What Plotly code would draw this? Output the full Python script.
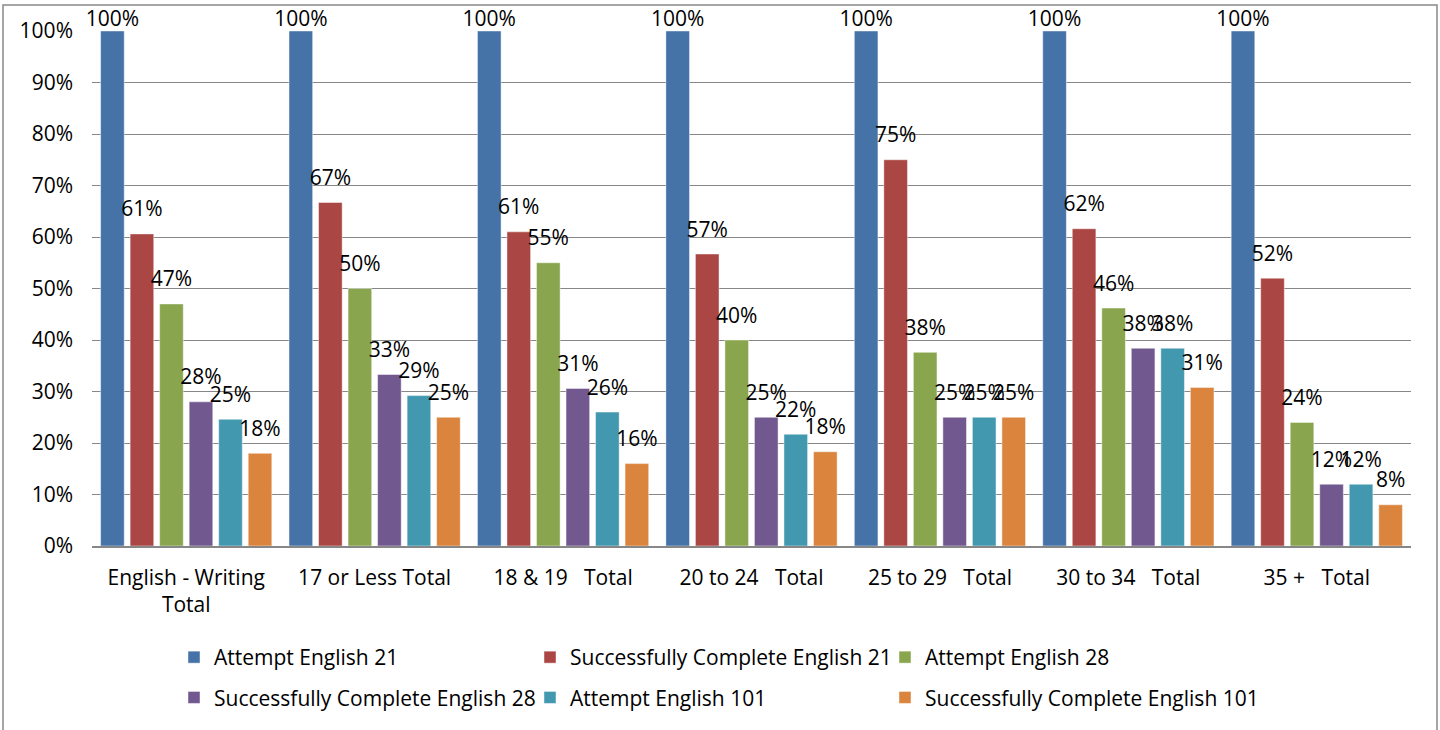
import plotly.graph_objects as go

categories = [
    "English - Writing<br>Total",
    "17 or Less Total",
    "18 &amp; 19\u00a0\u00a0\u00a0Total",
    "20 to 24\u00a0\u00a0\u00a0Total",
    "25 to 29\u00a0\u00a0\u00a0Total",
    "30 to 34\u00a0\u00a0\u00a0Total",
    "35 +\u00a0\u00a0\u00a0Total",
]

series_names = [
    "Attempt English 21",
    "Successfully Complete English 21",
    "Attempt English 28",
    "Successfully Complete English 28",
    "Attempt English 101",
    "Successfully Complete English 101",
]

attempt_21 = [1.000, 1.000, 1.000, 1.000, 1.000, 1.000, 1.000]
complete_21 = [0.606, 0.667, 0.610, 0.567, 0.750, 0.616, 0.520]
attempt_28 = [0.470, 0.500, 0.550, 0.400, 0.376, 0.462, 0.240]
complete_28 = [0.280, 0.333, 0.306, 0.250, 0.250, 0.384, 0.120]
attempt_101 = [0.246, 0.292, 0.260, 0.217, 0.250, 0.384, 0.120]
complete_101 = [0.180, 0.250, 0.160, 0.183, 0.250, 0.308, 0.080]

series_values = [attempt_21, complete_21, attempt_28, complete_28, attempt_101, complete_101]

y_ticks = [0, 0.1, 0.2, 0.3, 0.4, 0.5, 0.6, 0.7, 0.8, 0.9, 1.0]
y_tick_labels = ["0%", "10%", "20%", "30%", "40%", "50%", "60%", "70%", "80%", "90%", "100%"]

colors = ["#4572A7", "#AA4643", "#89A54E", "#71588F", "#4198AF", "#DB843D"]

FONT = "Open Sans"
W, H = 1440, 730
ML, MR, MT, MB = 92, 29, 31, 184
PW, PH = W - ML - MR, H - MT - MB

def px_x(p):
    return (p - ML) / PW

def px_y(p):
    return (H - MB - p) / PH

legend_ids = ["legend", "legend2", "legend3"]
legend_cols = [174, 530, 885]

fig = go.Figure()

for i, (name, vals) in enumerate(zip(series_names, series_values)):
    fig.add_trace(go.Bar(
        x=categories, y=vals, name=name,
        marker=dict(color=colors[i], line=dict(width=1, color="rgba(255,255,255,0.45)")),
        legend=legend_ids[i % 3],
        legendgroup=f"lg{i}",
        offsetgroup=f"g{i}",
        hoverinfo="skip",
    ))

for i, vals in enumerate(series_values):
    fig.add_trace(go.Scatter(
        x=categories, y=vals, mode="markers+text",
        texttemplate="%{y:.0%}",
        textposition="top center",
        textfont=dict(family=FONT, size=21, color="#000000"),
        marker=dict(size=[0 if v >= 1 else 18 for v in vals], opacity=0),
        showlegend=False, hoverinfo="skip",
        offsetgroup=f"g{i}",
        cliponaxis=False,
    ))

legend_common = dict(
    orientation="v", xanchor="left", y=px_y(637), yanchor="top",
    font=dict(family=FONT, size=21, color="#000000"),
    bgcolor="rgba(0,0,0,0)", traceorder="grouped", tracegroupgap=10,
)

fig.update_layout(
    width=W, height=H,
    margin=dict(l=ML, r=MR, t=MT, b=MB, autoexpand=False),
    paper_bgcolor="white", plot_bgcolor="white",
    font=dict(family=FONT, size=21, color="#000000"),
    barmode="group", bargap=0.06, bargroupgap=0.2,
    scattermode="group", scattergap=0.06,
    xaxis=dict(
        type="category", showgrid=False, showline=True, linecolor="#878787", linewidth=1.5,
        ticks="", tickfont=dict(family=FONT, size=21, color="#000000"),
        ticklabelstandoff=12, automargin=False, fixedrange=True,
    ),
    yaxis=dict(
        range=[0, 1], tickvals=y_ticks, ticktext=y_tick_labels,
        showgrid=True, gridcolor="#878787", gridwidth=1.3,
        zeroline=False, showline=False, ticks="",
        tickfont=dict(family=FONT, size=21, color="#000000"),
        ticklabelstandoff=18, automargin=False, fixedrange=True,
    ),
    legend=dict(x=px_x(legend_cols[0]), **legend_common),
    legend2=dict(x=px_x(legend_cols[1]), **legend_common),
    legend3=dict(x=px_x(legend_cols[2]), **legend_common),
    shapes=[dict(
        type="rect", xref="paper", yref="paper",
        x0=px_x(3), x1=px_x(1437), y0=px_y(745), y1=px_y(5),
        line=dict(color="#888888", width=1.5), fillcolor="rgba(0,0,0,0)", layer="below",
    )],
    showlegend=True,
)

fig.write_html(
    "out.html",
    config={"displayModeBar": False},
    post_script="document.body.style.margin='0';",
)
